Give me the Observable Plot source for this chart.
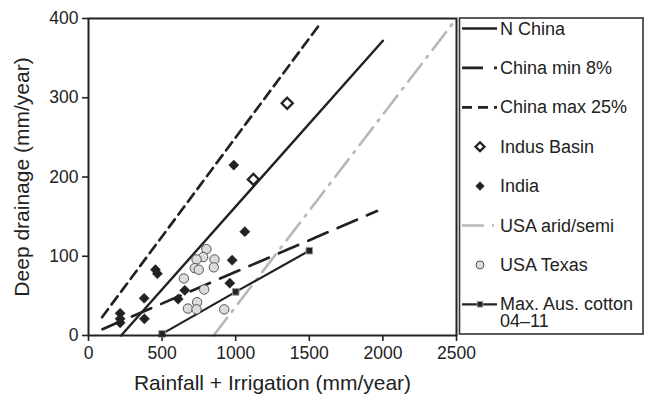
<!DOCTYPE html>
<html><head><meta charset="utf-8">
<script src="https://cdn.jsdelivr.net/npm/d3@7"></script>
<script src="https://cdn.jsdelivr.net/npm/@observablehq/plot@0.6"></script>
<style>
html,body{margin:0;padding:0;background:#fff;}
#chart{width:646px;height:397px;}
</style></head><body><div id="chart"></div>
<script>
// ---- data ----
const xTicks = [0, 500, 1000, 1500, 2000, 2500];
const yTicks = [0, 100, 200, 300, 400];
const xLabel = "Rainfall + Irrigation (mm/year)";
const yLabel = "Deep drainage (mm/year)";

const nChinaX = [222, 2000];
const nChinaY = [0, 372];
const chinaMinX = [95, 1960];
const chinaMinY = [8, 157];
const chinaMaxX = [92, 1568];
const chinaMaxY = [23, 392];
const usaAridX = [850, 2500];
const usaAridY = [0, 400];
const ausCottonX = [500, 1000, 1500];
const ausCottonY = [2, 55, 107];

const indusX = [1350, 1120];
const indusY = [293, 197];
const indiaX = [987, 1062, 455, 468, 976, 378, 654, 609, 960, 380, 215, 215, 215];
const indiaY = [215, 131, 83, 78, 95, 47, 57, 46, 66, 21, 28, 21, 16];
const texasX = [801, 779, 734, 856, 722, 749, 851, 648, 786, 738, 675, 734, 922];
const texasY = [109, 99, 96, 96, 85, 83, 86, 72, 58, 42, 34, 33, 33];

const legendLabels = ["N China", "China min 8%", "China max 25%", "Indus Basin", "India",
  "USA arid/semi", "USA Texas", "Max. Aus. cotton\n04\u201311"];

// ---- build ----
const pts = (xs, ys) => xs.map((x, i) => ({x, y: ys[i]}));
const FONT = "'Liberation Sans', Arial, Helvetica, sans-serif";
const ink = "#222";

const lineStyles = {
  nChina: {stroke: ink, strokeWidth: 2.4},
  chinaMin: {stroke: ink, strokeWidth: 2.7, strokeDasharray: "21,11"},
  chinaMax: {stroke: ink, strokeWidth: 2.7, strokeDasharray: "10,6"},
  usaArid: {stroke: "#b8b8b8", strokeWidth: 2.7, strokeDasharray: "22,8,2,8"},
  aus: {stroke: ink, strokeWidth: 2.2}
};
const dotStyles = {
  indus: {symbol: "diamond2", r: 5, fill: "white", stroke: ink, strokeWidth: 2.3},
  india: {symbol: "diamond2", r: 4.6, fill: ink, stroke: ink, strokeWidth: 0.5},
  texas: {symbol: "circle", r: 4.7, fill: "#dcdcdc", stroke: "#555", strokeWidth: 1},
  aus: {symbol: "square", r: 3.7, fill: ink, stroke: "#999", strokeWidth: 1}
};

const chart = Plot.plot({
  width: 646, height: 397,
  marginLeft: 88, marginRight: 190, marginTop: 18, marginBottom: 62,
  style: {fontFamily: FONT, fontSize: "17.5px", color: ink, background: "white", overflow: "visible"},
  x: {domain: [0, 2500], ticks: xTicks, tickSize: 6, tickPadding: 5, label: null, tickFormat: d => String(d)},
  y: {domain: [0, 400], ticks: yTicks, tickSize: 6, tickPadding: 4, label: null, tickFormat: d => String(d)},
  marks: [
    Plot.line(pts(chinaMaxX, chinaMaxY), {x: "x", y: "y", ...lineStyles.chinaMax}),
    Plot.line(pts(chinaMinX, chinaMinY), {x: "x", y: "y", ...lineStyles.chinaMin}),
    Plot.line(pts(usaAridX, usaAridY), {x: "x", y: "y", ...lineStyles.usaArid}),
    Plot.line(pts(nChinaX, nChinaY), {x: "x", y: "y", ...lineStyles.nChina}),
    Plot.line(pts(ausCottonX, ausCottonY), {x: "x", y: "y", ...lineStyles.aus}),
    Plot.dot(pts(texasX, texasY), {x: "x", y: "y", ...dotStyles.texas}),
    Plot.dot(pts(indiaX, indiaY), {x: "x", y: "y", ...dotStyles.india}),
    Plot.dot(pts(indusX, indusY), {x: "x", y: "y", ...dotStyles.indus}),
    Plot.dot(pts(ausCottonX, ausCottonY), {x: "x", y: "y", ...dotStyles.aus}),
    Plot.frame({stroke: ink, strokeWidth: 2}),
    Plot.text([xLabel], {frameAnchor: "bottom", textAnchor: "middle", lineAnchor: "middle", dy: 48, fontSize: 21, fill: ink}),
    Plot.text([yLabel], {frameAnchor: "left", textAnchor: "middle", lineAnchor: "middle", rotate: -90, dx: -66, fontSize: 21, fill: ink})
  ]
});
document.getElementById("chart").appendChild(chart);

// thicker ticks
d3.select(chart).selectAll('g[aria-label$="tick"] path').attr("stroke-width", 1.6).attr("stroke", ink);

// ---- legend (inside the same svg, to the right of the frame) ----
const svg = d3.select(chart);
const lg = svg.append("g").attr("font-family", FONT).attr("font-size", 18).attr("fill", ink)
  .attr("text-anchor", "start");
lg.append("rect").attr("x", 459.5).attr("y", 18).attr("width", 183.5).attr("height", 316)
  .attr("fill", "none").attr("stroke", "#333").attr("stroke-width", 1.6);
const legendKinds = [
  {line: "nChina"}, {line: "chinaMin"}, {line: "chinaMax"}, {dot: "indus"}, {dot: "india"},
  {line: "usaArid"}, {dot: "texas"}, {line: "aus", dot: "aus"}
];
const symPath = (name, r) => {
  const sym = {circle: d3.symbolCircle, diamond2: d3.symbolDiamond2, square: d3.symbolSquare}[name];
  return d3.symbol(sym, Math.PI * r * r)();
};
legendLabels.forEach((lab, i) => {
  const base = 34.5 + i * 39.4;
  const cy = base - 6;
  const k = legendKinds[i];
  if (k.line) {
    const s = lineStyles[k.line];
    lg.append("line").attr("x1", 462).attr("x2", 497).attr("y1", cy).attr("y2", cy)
      .attr("stroke", s.stroke).attr("stroke-width", s.strokeWidth)
      .attr("stroke-dasharray", s.strokeDasharray || null);
  }
  if (k.dot) {
    const s = dotStyles[k.dot];
    lg.append("path").attr("d", symPath(s.symbol, s.r * (k.dot === "indus" ? 0.8 : 0.85)))
      .attr("transform", `translate(480,${cy})`)
      .attr("fill", s.fill).attr("stroke", s.stroke).attr("stroke-width", s.strokeWidth);
  }
  const lines = lab.split("\n");
  const t = lg.append("text").attr("x", 500).attr("y", base);
  lines.forEach((ln, j) => t.append("tspan").attr("x", 500).attr("dy", j ? 17 : 0).text(ln));
});
</script></body></html>
